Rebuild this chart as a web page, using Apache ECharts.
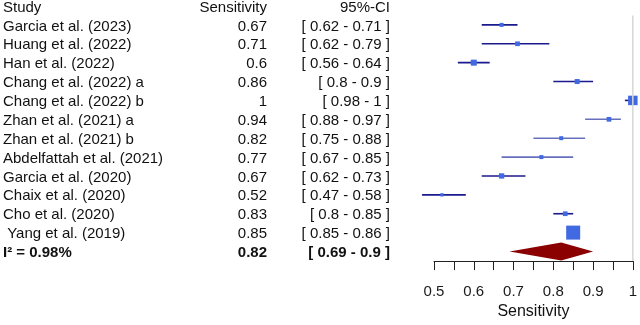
<!DOCTYPE html>
<html>
<head>
<meta charset="utf-8">
<script src="https://cdn.jsdelivr.net/npm/echarts@6/dist/echarts.min.js"></script>
<style>
  html, body { margin: 0; padding: 0; background: #fff; }
  #chart { width: 640px; height: 325px; }
</style>
</head>
<body>
<div id="chart"></div>
<script>
'use strict';

// studies, top to bottom
var studies = ['Garcia et al. (2023)', 'Huang et al. (2022)', 'Han et al. (2022)', 'Chang et al. (2022) a',
    'Chang et al. (2022) b', 'Zhan et al. (2021) a', 'Zhan et al. (2021) b', 'Abdelfattah et al. (2021)',
    'Garcia et al. (2020)', 'Chaix et al. (2020)', 'Cho et al. (2020)', ' Yang et al. (2019)'];
var sensitivity = [0.67, 0.71, 0.6, 0.86, 1, 0.94, 0.82, 0.77, 0.67, 0.52, 0.83, 0.85];
var ciLow = [0.62, 0.62, 0.56, 0.8, 0.98, 0.88, 0.75, 0.67, 0.62, 0.47, 0.8, 0.85];
var ciHigh = [0.71, 0.79, 0.64, 0.9, 1, 0.97, 0.88, 0.85, 0.73, 0.58, 0.85, 0.86];
// study weights (box area)
var weights = [16, 22, 36, 25, 90, 22, 16, 16, 28, 11, 22, 196];

var pooled = 0.82;
var pooledLow = 0.69;
var pooledHigh = 0.9;
var heterogeneity = 'I² = 0.98%';

var headers = ['Study', 'Sensitivity', '95%-CI'];
var xTicks = [0.5, 0.6, 0.7, 0.8, 0.9, 1];

var FONT = 'Liberation Sans, Arial, sans-serif';
var FS = 15;
var lightRows = [5, 6, 7];

// text columns (row 0 = header, last row = summary)
var colStudy = [headers[0]].concat(studies, [heterogeneity]);
var colSens = [headers[1]].concat(sensitivity.map(String), [String(pooled)]);
var colCI = [headers[2]].concat(ciLow.map(function (l, i) {
    return '[ ' + l + ' - ' + ciHigh[i] + ' ]';
}), ['[ ' + pooledLow + ' - ' + pooledHigh + ' ]']);
var nRows = colStudy.length;
var rowIdx = colStudy.map(function (s, i) { return i; });

function textAxis(col, align, margin) {
    return {
        type: 'category', data: rowIdx, inverse: true, boundaryGap: false, position: 'left',
        axisLine: { show: false }, axisTick: { show: false }, splitLine: { show: false },
        axisLabel: {
            interval: 0, align: align, margin: margin, hideOverlap: false,
            color: '#111', fontFamily: FONT, fontSize: FS, padding: [3, 0, 0, 0],
            formatter: function (v, i) {
                return i === nRows - 1 ? '{b|' + col[i] + '}' : col[i];
            },
            rich: { b: { fontWeight: 'bold', fontFamily: FONT, fontSize: FS, color: '#111' } }
        }
    };
}

var plotData = [];
for (var i = 0; i < studies.length; i++) {
    plotData.push([i + 1, sensitivity[i], ciLow[i], ciHigh[i], Math.sqrt(weights[i]), 0]);
}
plotData.push([nRows - 1, pooled, pooledLow, pooledHigh, 0, 1]);
plotData.push([0, 1, 0, 0, 0, 2]);

var chart = echarts.init(document.getElementById('chart'));
chart.setOption({
    animation: false,
    grid: { left: 432, right: 4, top: 5.1, height: 249.6 },
    xAxis: {
        type: 'value', min: 0.5, max: 1, interval: 0.05, offset: 9.6, position: 'bottom',
        name: 'Sensitivity', nameLocation: 'middle', nameGap: 42,
        nameTextStyle: { color: '#111', fontFamily: FONT, fontSize: 16 },
        axisLine: { onZero: false, lineStyle: { color: '#222', width: 1 } },
        axisTick: { length: 9, inside: false, lineStyle: { color: '#222' } },
        splitLine: { show: false },
        axisLabel: {
            color: '#1a1a1a', fontFamily: FONT, fontSize: FS, margin: 23, showMaxLabel: true,
            formatter: function (v) {
                var hit = xTicks.filter(function (t) { return Math.abs(t - v) < 1e-6; });
                return hit.length ? String(hit[0]) : '';
            }
        }
    },
    yAxis: [
        { type: 'value', min: 0, max: nRows - 1, inverse: true, show: false },
        textAxis(colStudy, 'left', 431),
        textAxis(colSens, 'right', 167),
        textAxis(colCI, 'right', 44)
    ],
    series: [{
        type: 'custom',
        clip: false,
        yAxisIndex: 0,
        data: plotData,
        renderItem: function (params, api) {
            var row = api.value(0), kind = api.value(5);
            if (kind === 2) {
                var top = api.coord([1, row + 0.5]);
                var bot = api.coord([1, nRows - 0.5]);
                return { type: 'line', shape: { x1: top[0], y1: top[1], x2: bot[0], y2: bot[1] },
                    style: { stroke: '#d6d6d6', lineWidth: 1.5 } };
            }
            var c = api.coord([api.value(1), row]);
            var l = api.coord([api.value(2), row]);
            var h = api.coord([api.value(3), row]);
            if (kind === 1) {
                var hh = 9;
                return { type: 'polygon', shape: { points: [[l[0], c[1]], [c[0], c[1] - hh], [h[0], c[1]], [c[0], c[1] + hh]] },
                    style: { fill: '#8b0000' } };
            }
            var s = api.value(4);
            var light = lightRows.indexOf(row - 1) >= 0;
            return {
                type: 'group',
                children: [
                    { type: 'line', shape: { x1: l[0], y1: c[1], x2: h[0], y2: c[1] },
                        style: { stroke: light ? '#6670bd' : '#1a1a8f', lineWidth: 1.6 } },
                    { type: 'rect', shape: { x: c[0] - s / 2, y: c[1] - s / 2, width: s, height: s },
                        style: { fill: '#4169e1' } }
                ]
            };
        }
    }]
});
</script>
</body>
</html>
